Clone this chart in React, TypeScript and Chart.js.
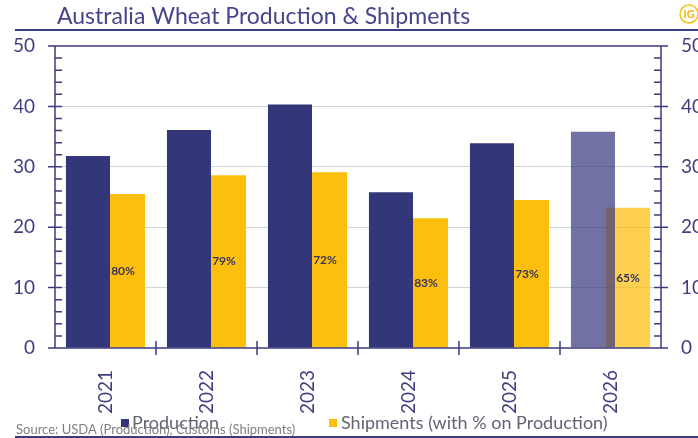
import React, { useEffect, useRef } from "react";
import { Chart, registerables } from "chart.js";

Chart.register(...registerables);

const years = ["2021", "2022", "2023", "2024", "2025", "2026"];
const production = [31.8, 36.1, 40.3, 25.8, 33.9, 35.8];
const shipments = [25.5, 28.6, 29.1, 21.5, 24.5, 23.2];
const shipmentPct = ["80%", "79%", "72%", "83%", "73%", "65%"];
const yMin = 0;
const yMax = 50;

const NAVY = "#34367a";
const GOLD = "#fcbf0e";
const AXIS = "#3b3b7d";
const FONT = "Lato, 'Open Sans', sans-serif";

const decorPlugin = {
  id: "decor",
  afterDraw(chart: any) {
    const { ctx, chartArea } = chart;
    const { left, right, top, bottom } = chartArea;
    const y = chart.scales.y;
    const x = chart.scales.x;
    ctx.save();

    // title
    ctx.fillStyle = "#45458c";
    ctx.font = `23px ${FONT}`;
    ctx.textBaseline = "middle";
    ctx.textAlign = "left";
    ctx.fillText("Australia Wheat Production & Shipments", 57, 17);

    // logo
    ctx.strokeStyle = "#fcc20e";
    ctx.lineWidth = 1.5;
    ctx.beginPath();
    ctx.arc(689, 14, 9, 0, Math.PI * 2);
    ctx.stroke();
    ctx.fillStyle = "#f2b705";
    ctx.font = `bold 11px ${FONT}`;
    ctx.textAlign = "center";
    ctx.fillText("IG", 689, 14.5);

    // header / footer lines
    ctx.strokeStyle = AXIS;
    ctx.lineWidth = 2;
    ctx.beginPath();
    ctx.moveTo(15, 30);
    ctx.lineTo(698, 30);
    ctx.moveTo(15, 437);
    ctx.lineTo(698, 437);
    ctx.stroke();

    // frame
    ctx.lineWidth = 1.5;
    ctx.beginPath();
    ctx.moveTo(left - 7, top);
    ctx.lineTo(right + 7, top);
    ctx.moveTo(left - 7, bottom);
    ctx.lineTo(right + 7, bottom);
    ctx.moveTo(left, top);
    ctx.lineTo(left, bottom);
    ctx.moveTo(right, top);
    ctx.lineTo(right, bottom);
    // y ticks
    for (let v = yMin; v <= yMax; v += 2) {
      const py = y.getPixelForValue(v);
      if (v % 10 === 0) {
        ctx.moveTo(left - 7, py);
        ctx.lineTo(left + 7, py);
        ctx.moveTo(right - 7, py);
        ctx.lineTo(right + 7, py);
      } else {
        ctx.moveTo(left, py);
        ctx.lineTo(left + 7, py);
        ctx.moveTo(right - 7, py);
        ctx.lineTo(right, py);
      }
    }
    // x category boundary ticks
    for (let i = 1; i < years.length; i++) {
      const px = (x.getPixelForValue(i - 1) + x.getPixelForValue(i)) / 2;
      ctx.moveTo(px, bottom - 7);
      ctx.lineTo(px, bottom + 7);
    }
    ctx.stroke();

    // percentage labels
    const meta = chart.getDatasetMeta(1);
    ctx.fillStyle = "#3b3560";
    ctx.font = `bold 12px ${FONT}`;
    ctx.textAlign = "center";
    ctx.textBaseline = "middle";
    meta.data.forEach((bar: any, i: number) => {
      const cy = (bar.y + bar.base) / 2;
      ctx.fillText(shipmentPct[i], bar.x, cy);
    });

    // legend
    const ly = 423;
    ctx.font = `18px ${FONT}`;
    ctx.textAlign = "left";
    ctx.fillStyle = NAVY;
    ctx.fillRect(121, ly - 4, 8, 8);
    ctx.fillStyle = "#626476";
    ctx.fillText("Production", 132, ly);
    ctx.fillStyle = GOLD;
    ctx.fillRect(329, ly - 4, 8, 8);
    ctx.fillStyle = "#626476";
    ctx.fillText("Shipments (with % on Production)", 341, ly);

    // source
    ctx.fillStyle = "#808080";
    ctx.font = `13px ${FONT}`;
    ctx.fillText("Source: USDA (Production), Customs (Shipments)", 16, 430);

    ctx.restore();
  },
};

export default function App() {
  const ref = useRef<HTMLCanvasElement | null>(null);
  useEffect(() => {
    document.body.style.margin = "0";
    if (!ref.current) return;
    const n = years.length;
    const prodColors = years.map((_, i) => (i === n - 1 ? "rgba(52,54,122,0.7)" : NAVY));
    const shipColors = years.map((_, i) => (i === n - 1 ? "rgba(252,191,14,0.73)" : GOLD));
    const chart = new Chart(ref.current, {
      type: "bar",
      data: {
        labels: years,
        datasets: [
          {
            label: "Production",
            data: production,
            backgroundColor: prodColors,
            categoryPercentage: 0.694,
            barPercentage: 1.257,
          },
          {
            label: "Shipments (with % on Production)",
            data: shipments,
            backgroundColor: shipColors,
            categoryPercentage: 0.694,
            barPercentage: 1.257,
          },
        ],
      },
      options: {
        responsive: false,
        animation: false,
        layout: { padding: { top: 46, left: 0, right: 0, bottom: 0 } },
        plugins: { legend: { display: false }, tooltip: { enabled: false } },
        scales: {
          x: {
            type: "category",
            grid: { display: false },
            border: { display: false },
            ticks: {
              font: { family: FONT, size: 19 },
              color: "#3f3f80",
              maxRotation: 90,
              minRotation: 90,
              padding: 14,
            },
            afterFit(scale: any) {
              scale.height = 90;
            },
          },
          y: {
            position: "left",
            min: yMin,
            max: yMax,
            grid: {
              drawTicks: false,
              color: (c: any) =>
                c.tick && (c.tick.value === yMin || c.tick.value === yMax) ? "rgba(0,0,0,0)" : "#d3d3da",
              lineWidth: 1,
            },
            border: { display: false },
            ticks: {
              stepSize: 10,
              font: { family: FONT, size: 19 },
              color: "#3f3f80",
              padding: 20,
            },
            afterFit(scale: any) {
              scale.width = 55;
            },
          },
          y2: {
            position: "right",
            min: yMin,
            max: yMax,
            grid: { drawOnChartArea: false, drawTicks: false },
            border: { display: false },
            ticks: {
              stepSize: 10,
              font: { family: FONT, size: 19 },
              color: "#3f3f80",
              padding: 20,
            },
            afterFit(scale: any) {
              scale.width = 37;
            },
          },
        },
      },
      plugins: [decorPlugin],
    });
    return () => chart.destroy();
  }, []);
  return (
    <div style={{ width: 698, height: 438 }}>
      <canvas ref={ref} width={698} height={438} />
    </div>
  );
}
